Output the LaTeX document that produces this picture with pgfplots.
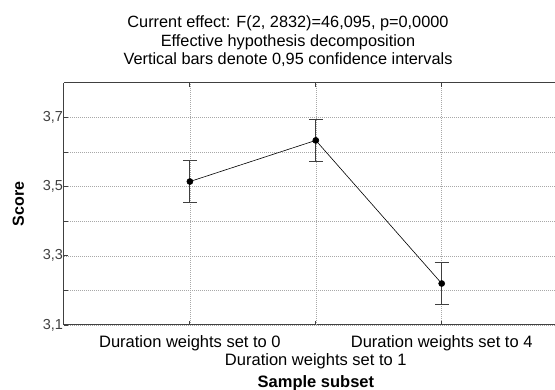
\documentclass[border=0pt]{standalone}
\usepackage{pgfplots}
\pgfplotsset{compat=1.18}
\usepackage{fontspec}
\setmainfont{Liberation Sans}
\definecolor{axgray}{HTML}{404040}
\definecolor{gridgray}{HTML}{A8A8A8}
\begin{document}
\begin{tikzpicture}
\begin{axis}[
  at={(64pt,-83pt)}, anchor=north west,
  scale only axis, width=491pt, height=242pt,
  xmin=-1, xmax=2.9, ymin=3.1, ymax=3.8,
  axis x line=box, axis y line=left,
  x axis line style={-, draw=axgray, line width=1pt},
  y axis line style={-, draw=axgray, line width=1pt},
  tick align=inside,
  major tick length=4pt, minor tick length=4pt,
  tick style={axgray, line width=0.8pt},
  xtick={0,2},
  xticklabels={Duration weights set to 0, Duration weights set to 4},
  extra x ticks={1},
  extra x tick labels={Duration weights set to 1},
  extra x tick style={xmajorgrids=true, xticklabel style={yshift=-18pt}},
  xticklabel style={anchor=base, yshift=-23pt, font=\fontsize{16.5}{19}\selectfont, black},
  ytick={3.1,3.3,3.5,3.7},
  minor ytick={3.2,3.4,3.6},
  yticklabel style={font=\fontsize{14.5}{17}\selectfont, color=axgray, xshift=2.5pt},
  /pgf/number format/.cd, use comma, fixed, fixed zerofill, precision=1, assume math mode=true,
  /pgfplots/.cd,
  xmajorgrids=true, ymajorgrids=true, yminorgrids=true,
  major grid style={gridgray, dash pattern=on 1pt off 1pt, line width=0.5pt},
  minor grid style={gridgray, dash pattern=on 1pt off 1pt, line width=0.5pt},
  xlabel={Sample subset},
  xlabel style={at={(axis description cs:0.513,0)}, anchor=base, yshift=-63pt, font=\bfseries\fontsize{16.5}{19}\selectfont},
  ylabel={Score},
  ylabel style={at={(axis description cs:-0.0927,0.5)}, anchor=center, font=\bfseries\fontsize{16}{19}\selectfont},
  clip=false,
]
\addplot[black, line width=0.6pt, mark=*, mark size=3pt, mark options={fill=black, solid},
  error bars/.cd, y dir=both, y explicit,
  error bar style={axgray, line width=1pt},
  error mark options={axgray, rotate=90, mark size=7pt, line width=1pt}]
  coordinates {
    (0,3.515) +- (0,0.061)
    (1,3.634) +- (0,0.061)
    (2,3.220) +- (0,0.061)
  };
\end{axis}
\node[anchor=base, font=\fontsize{16.3}{18}\selectfont] at (288pt,-28pt) {Current effect: F(2, 2832)=46,095, p=0,0000};
\node[anchor=base, font=\fontsize{16.3}{18}\selectfont] at (288pt,-46.5pt) {Effective hypothesis decomposition};
\node[anchor=base, font=\fontsize{16.3}{18}\selectfont] at (288pt,-65pt) {Vertical bars denote 0,95 confidence intervals};
\pgfresetboundingbox
\path[use as bounding box] (0pt,0pt) rectangle (555pt,-390pt);
\end{tikzpicture}
\end{document}
